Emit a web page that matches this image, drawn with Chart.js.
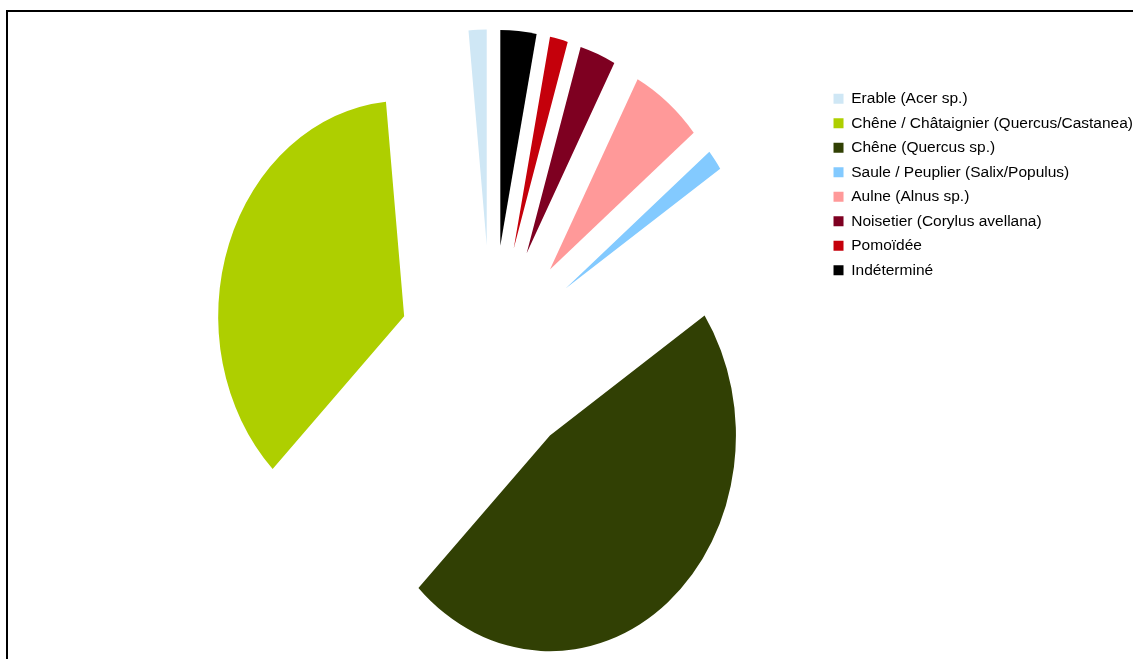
<!DOCTYPE html>
<html>
<head>
<meta charset="utf-8">
<script src="https://cdn.jsdelivr.net/npm/chart.js@4.4.1/dist/chart.umd.min.js"></script>
<style>
  html, body { margin: 0; padding: 0; background: #fff; }
  #wrap { position: relative; width: 1138px; height: 659px; overflow: hidden; }
  #frame { position: absolute; left: 6px; top: 10px; width: 1125px; height: 660px;
           border-top: 2px solid #000; border-left: 2px solid #000; pointer-events: none; }
  canvas { position: absolute; left: 0; top: 0; }
</style>
</head>
<body>
<div id="wrap">
  <canvas id="c" width="1138" height="659"></canvas>
  <div id="frame"></div>
</div>
<script>
// Categories in legend order
const categories = [
  'Erable (Acer sp.)',
  'Chêne / Châtaignier (Quercus/Castanea)',
  'Chêne (Quercus sp.)',
  'Saule / Peuplier (Salix/Populus)',
  'Aulne (Alnus sp.)',
  'Noisetier (Corylus avellana)',
  'Pomoïdée',
  'Indéterminé'
];
const counts = [1, 23, 30, 1, 4, 2, 1, 2];
const colors = ['#cfe7f5', '#aecf00', '#314004', '#83caff', '#ff9999', '#7e0021', '#c5000b', '#000000'];

// slices run counter-clockwise from 12 o'clock in the reference:
// draw reversed (clockwise) and reverse the legend back
const drawLabels = categories.slice().reverse();
const drawValues = counts.slice().reverse();
const drawColors = colors.slice().reverse();

const GAP = 92.5;       // explosion distance
const STRETCH_Y = 1.16; // vertical stretch of the pie

const explodePlugin = {
  id: 'explode',
  beforeDatasetsDraw(chart) {
    const meta = chart.getDatasetMeta(0);
    const ctx = chart.ctx;
    meta.data.forEach(arc => {
      const mid = (arc.startAngle + arc.endAngle) / 2;
      ctx.save();
      ctx.translate(arc.x, arc.y);
      ctx.scale(1, STRETCH_Y);
      ctx.translate(Math.cos(mid) * GAP, Math.sin(mid) * GAP);
      ctx.translate(-arc.x, -arc.y);
      arc.draw(ctx);
      ctx.restore();
    });
    return false;
  }
};

new Chart(document.getElementById('c'), {
  type: 'pie',
  data: {
    labels: drawLabels,
    datasets: [{
      data: drawValues,
      backgroundColor: drawColors,
      borderWidth: 0,
      clip: false
    }]
  },
  options: {
    responsive: false,
    devicePixelRatio: 1,
    animation: false,
    events: [],
    radius: 186,
    layout: { padding: { top: 82, right: -5, bottom: 36, left: 158 } },
    plugins: {
      tooltip: { enabled: false },
      legend: {
        position: 'right',
        align: 'start',
        reverse: true,
        labels: {
          boxWidth: 10,
          boxHeight: 10,
          padding: 9,
          color: '#000',
          font: { family: "'Liberation Sans', Arial, sans-serif", size: 15.5 }
        }
      }
    }
  },
  plugins: [explodePlugin]
});
</script>
</body>
</html>
